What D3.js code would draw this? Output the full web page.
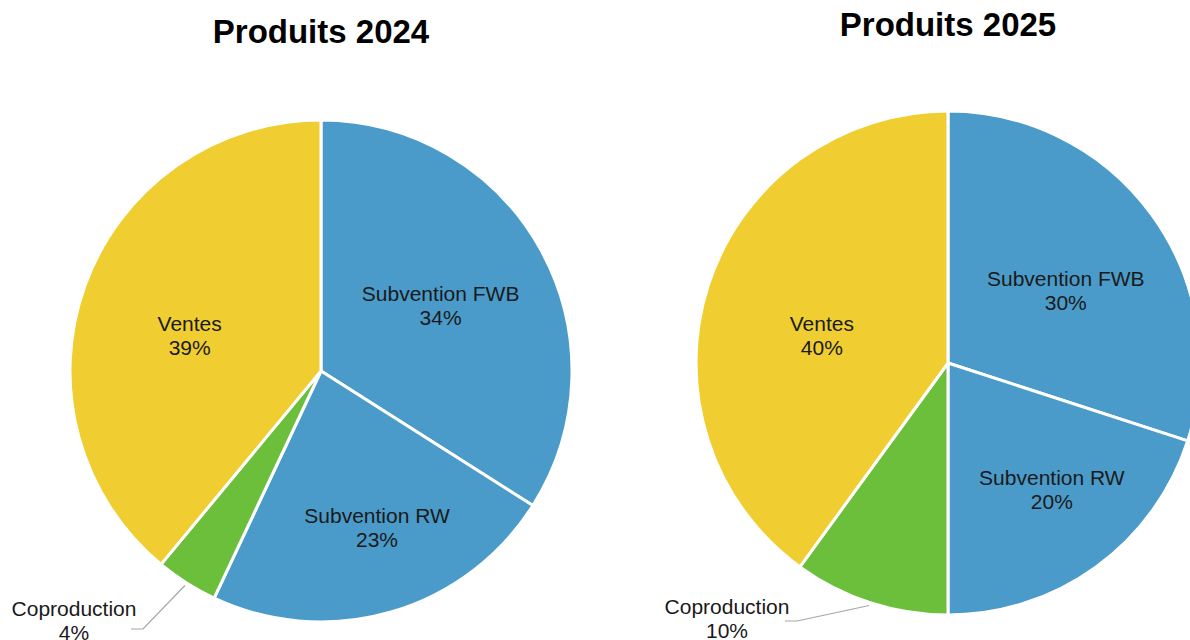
<!DOCTYPE html>
<html>
<head>
<meta charset="utf-8">
<script src="https://cdn.jsdelivr.net/npm/d3@7"></script>
<style>
  body { margin: 0; background: #fff; }
  svg { display: block; font-family: "Liberation Sans", Arial, sans-serif; }
</style>
</head>
<body>
<svg width="1190" height="640"></svg>
<script>
// data
const categories = ["Subvention FWB", "Subvention RW", "Coproduction", "Ventes"]
const values2024 = [34, 23, 4, 39]
const values2025 = [30, 20, 10, 40]
const titles = ["Produits 2024", "Produits 2025"]
const colors = ["#4a9bc9", "#4a9bc9", "#6cbf3a", "#f0ce32"]

const svg = d3.select("svg")

// layout per chart (center, radius, title, label placement)
// inside labels: [distance from center, angle shift in degrees from slice middle]
const charts = [
  { values: values2024, title: titles[0], cx: 321, cy: 371, r: 251, titleY: 43,
    labels: { "Subvention FWB": [136, 0.4], "Subvention RW": [167, -3.4], "Ventes": [136, -4.8] },
    outer: { elbow: [-178, 258], textX: -247, textDy: -13 } },
  { values: values2025, title: titles[1], cx: 948, cy: 363, r: 252, titleY: 36,
    labels: { "Subvention FWB": [138, 4.6], "Subvention RW": [164, -3.3], "Ventes": [129, -5.9] },
    outer: { elbow: [-151, 258], textX: -221, textDy: -7 } }
]

const pie = d3.pie().sort(null).value(d => d.value)

charts.forEach(c => {
  const rows = categories.map((name, i) => ({ name, value: c.values[i], color: colors[i] }))
  const arcs = pie(rows)
  const arc = d3.arc().innerRadius(0).outerRadius(c.r)

  const g = svg.append("g").attr("transform", `translate(${c.cx},${c.cy})`)

  g.selectAll("path")
    .data(arcs)
    .enter()
    .append("path")
    .attr("d", arc)
    .attr("fill", d => d.data.color)
    .attr("stroke", "#fff")
    .attr("stroke-width", 3)
    .attr("stroke-linejoin", "round")

  arcs.forEach(d => {
    const mid = (d.startAngle + d.endAngle) / 2
    const pct = d.data.value + "%"
    const lab = c.labels[d.data.name]
    if (lab) {
      const a = mid + lab[1] * Math.PI / 180
      const x = Math.sin(a) * lab[0], y = -Math.cos(a) * lab[0]
      const t = g.append("text")
        .attr("text-anchor", "middle")
        .attr("font-size", 21)
        .attr("fill", "#1a1a1a")
      t.append("tspan").attr("x", x).attr("y", y - 5).text(d.data.name)
      t.append("tspan").attr("x", x).attr("y", y + 19).text(pct)
    } else {
      // outside label with leader line
      const sx = Math.sin(mid) * (c.r + 3), sy = -Math.cos(mid) * (c.r + 3)
      const [ex, ey] = c.outer.elbow
      g.append("path")
        .attr("d", `M${sx},${sy} L${ex},${ey} L${ex - 12},${ey}`)
        .attr("fill", "none")
        .attr("stroke", "#a6a6a6")
        .attr("stroke-width", 1.2)
      const t = g.append("text")
        .attr("text-anchor", "middle")
        .attr("font-size", 21)
        .attr("fill", "#1a1a1a")
      t.append("tspan").attr("x", c.outer.textX).attr("y", ey + c.outer.textDy).text(d.data.name)
      t.append("tspan").attr("x", c.outer.textX).attr("y", ey + c.outer.textDy + 24).text(pct)
    }
  })

  svg.append("text")
    .attr("x", c.cx)
    .attr("y", c.titleY)
    .attr("text-anchor", "middle")
    .attr("font-size", 33)
    .attr("font-weight", "bold")
    .attr("fill", "#000")
    .text(c.title)
})
</script>
</body>
</html>
